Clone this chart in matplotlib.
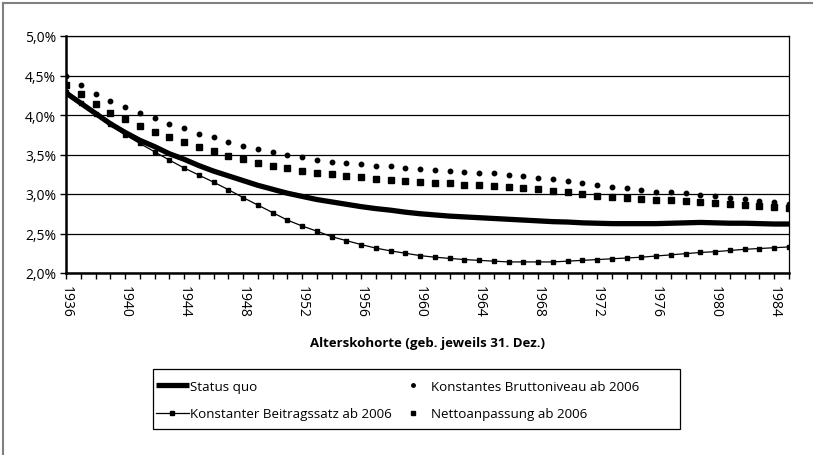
import matplotlib
matplotlib.use("Agg")
import matplotlib.pyplot as plt
from matplotlib.lines import Line2D
from matplotlib.patches import Rectangle
from matplotlib.ticker import FixedLocator, MultipleLocator, FuncFormatter

years = list(range(1936, 1986))

status_quo = [4.28, 4.15, 4.02, 3.89, 3.78, 3.68, 3.60, 3.51, 3.44, 3.36,
              3.29, 3.23, 3.17, 3.11, 3.06, 3.01, 2.97, 2.93, 2.90, 2.87,
              2.84, 2.815, 2.795, 2.77, 2.75, 2.735, 2.72, 2.71, 2.70, 2.69,
              2.68, 2.67, 2.66, 2.65, 2.645, 2.635, 2.63, 2.625, 2.625, 2.625,
              2.625, 2.63, 2.635, 2.64, 2.635, 2.63, 2.63, 2.625, 2.62, 2.62]

beitragssatz = [4.29, 4.15, 4.01, 3.88, 3.75, 3.64, 3.535, 3.43, 3.33, 3.24,
                3.15, 3.055, 2.955, 2.86, 2.765, 2.67, 2.595, 2.53, 2.46, 2.41,
                2.36, 2.315, 2.28, 2.25, 2.22, 2.20, 2.185, 2.17, 2.16, 2.15,
                2.14, 2.14, 2.14, 2.14, 2.15, 2.16, 2.17, 2.18, 2.19, 2.20,
                2.215, 2.23, 2.245, 2.26, 2.27, 2.285, 2.30, 2.31, 2.32, 2.33]

brutto = [4.49, 4.38, 4.27, 4.18, 4.10, 4.02, 3.96, 3.89, 3.83, 3.76,
          3.72, 3.66, 3.61, 3.57, 3.53, 3.50, 3.465, 3.435, 3.41, 3.39,
          3.375, 3.36, 3.35, 3.33, 3.32, 3.31, 3.295, 3.28, 3.27, 3.26,
          3.245, 3.23, 3.20, 3.185, 3.16, 3.135, 3.11, 3.09, 3.07, 3.05,
          3.03, 3.02, 3.01, 2.99, 2.975, 2.955, 2.94, 2.915, 2.90, 2.875]

netto = [4.385, 4.26, 4.14, 4.03, 3.95, 3.865, 3.79, 3.72, 3.66, 3.60,
         3.54, 3.485, 3.44, 3.395, 3.36, 3.325, 3.29, 3.265, 3.25, 3.23,
         3.21, 3.195, 3.18, 3.17, 3.155, 3.145, 3.135, 3.12, 3.11, 3.10,
         3.09, 3.075, 3.06, 3.04, 3.02, 3.00, 2.98, 2.96, 2.955, 2.94,
         2.93, 2.92, 2.91, 2.90, 2.89, 2.875, 2.865, 2.85, 2.835, 2.82]

labels = ["Status quo", "Konstanter Beitragssatz ab 2006",
          "Konstantes Bruttoniveau ab 2006", "Nettoanpassung ab 2006"]
x_label = "Alterskohorte (geb. jeweils 31. Dez.)"
y_ticks = [2.0, 2.5, 3.0, 3.5, 4.0, 4.5, 5.0]
x_ticks = list(range(1936, 1986, 4))

plt.rcParams['font.family'] = ['Open Sans', 'DejaVu Sans']

W, H = 813, 456
fig = plt.figure(figsize=(W / 100, H / 100), dpi=100)
ax = fig.add_axes([66 / W, 1 - 274 / H, (789 - 66) / W, (274 - 37) / H])

h1, = ax.plot(years, status_quo, color='black', lw=3.8, solid_capstyle='butt', zorder=3)
h2, = ax.plot(years, beitragssatz, color='black', lw=0.9, marker='s', ms=2.2, zorder=3)
h3, = ax.plot(years, brutto, ls='none', color='black', marker='o', ms=3.2, zorder=4)
h4, = ax.plot(years, netto, ls='none', color='black', marker='s', ms=4.6, zorder=4)

ax.set_xlim(1936, 1985)
ax.set_ylim(2.0, 5.0)
ax.yaxis.set_major_locator(FixedLocator(y_ticks))
ax.yaxis.set_major_formatter(FuncFormatter(lambda v, p: f"{v:.1f}".replace('.', ',') + "%"))
ax.xaxis.set_major_locator(FixedLocator(x_ticks))
ax.xaxis.set_minor_locator(MultipleLocator(1))
ax.set_xticklabels([str(t) for t in x_ticks], rotation=270, fontsize=10)
for lab in ax.get_yticklabels():
    lab.set_fontsize(10)
ax.tick_params(axis='x', which='both', direction='out', length=4, width=1, pad=5)
ax.tick_params(axis='y', which='major', direction='out', length=4, width=1, pad=3)
ax.grid(axis='y', color='black', lw=0.9)
ax.set_axisbelow(True)
for s in ['left', 'bottom']:
    ax.spines[s].set_linewidth(1.8)
for s in ['top', 'right']:
    ax.spines[s].set_linewidth(0.9)

ax.set_xlabel(x_label, fontsize=9.5, fontweight='bold', labelpad=13)

# legend frame
fig.add_artist(Rectangle((153 / W, 1 - 430 / H), (680 - 153) / W, 60 / H,
                         transform=fig.transFigure, fill=False,
                         edgecolor='black', lw=0.9))
leg = fig.legend([h1, h2, h3, h4], labels, ncol=2, loc='upper left',
                 bbox_to_anchor=(153 / W, 1 - 378 / H),
                 frameon=False, fontsize=9.6,
                 handlelength=2.5, handletextpad=0.1, borderaxespad=0,
                 borderpad=0.2, labelspacing=1.1, columnspacing=0.3, numpoints=1)
leg.legend_handles[2].set_markersize(2.5)
leg.legend_handles[3].set_markersize(3.5)

fig.add_artist(Line2D([3 / W, 3 / W], [0, 1 - 4 / H], transform=fig.transFigure,
                      color='#808080', lw=1.5))
fig.add_artist(Line2D([3 / W, 1], [1 - 4 / H, 1 - 4 / H], transform=fig.transFigure,
                      color='#808080', lw=1.5))

fig.savefig("out.png", dpi=100)
